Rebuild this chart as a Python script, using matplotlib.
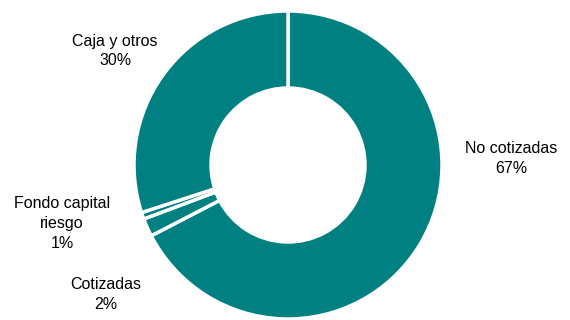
import matplotlib
matplotlib.use("Agg")
from matplotlib import pyplot as plt

plt.rcParams['font.family'] = ['Liberation Sans', 'DejaVu Sans']

labels = ["No cotizadas", "Cotizadas", "Fondo capital\nriesgo", "Caja y otros"]
values = [67.4, 1.9, 0.7, 30.0]

# label centres (data units, radius 1 = outer ring)
label_pos = [(1.448, 0.04), (-1.182, -0.84), (-1.468, -0.38), (-1.123, 0.74)]

fig = plt.figure(figsize=(5.7, 3.2), dpi=100)
ax = fig.add_axes([0, 0, 1, 1])

ax.pie(values, startangle=90, counterclock=False, colors=["#008080"] * 4,
       radius=1.0, wedgeprops=dict(width=0.5, edgecolor="white", linewidth=2.5))

for lab, v, (x, y) in zip(labels, values, label_pos):
    ax.text(x, y, f"{lab}\n{round(v)}%", ha="center", va="center",
            fontsize=11.5, color="#000000", linespacing=1.4)

r = 154
ax.set_xlim(-288 / r, (570 - 288) / r)
ax.set_ylim(-(320 - 165) / r, 165 / r)
ax.set_aspect("auto")
ax.axis("off")

fig.savefig("out.png", dpi=100)
